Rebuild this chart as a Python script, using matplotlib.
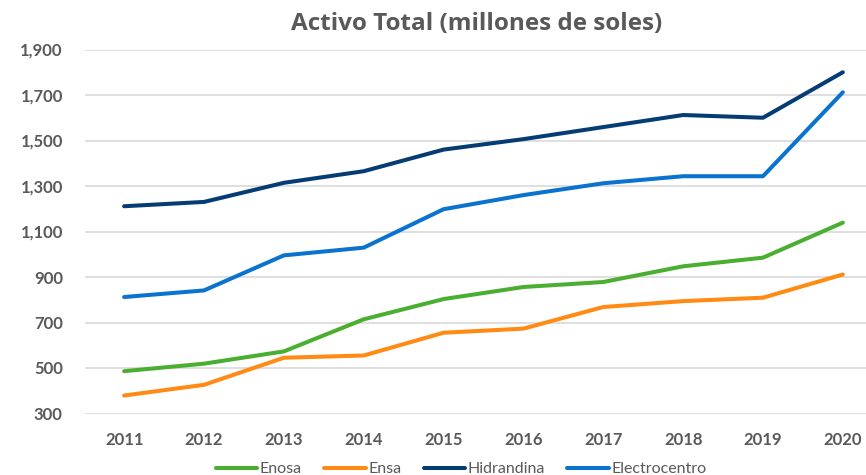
import matplotlib
matplotlib.use("Agg")
import matplotlib.pyplot as plt
from matplotlib.ticker import FuncFormatter

# data (millones de soles)
years = ['2011', '2012', '2013', '2014', '2015', '2016', '2017', '2018', '2019', '2020']
enosa = [486, 519, 573, 714, 803, 856, 878, 947, 985, 1139]
ensa = [379, 426, 545, 555, 655, 673, 768, 794, 809, 911]
hidrandina = [1211, 1230, 1314, 1365, 1460, 1506, 1559, 1612, 1600, 1800]
electrocentro = [812, 841, 995, 1029, 1198, 1260, 1312, 1343, 1343, 1712]
y_ticks = [300, 500, 700, 900, 1100, 1300, 1500, 1700, 1900]

series = [('Enosa', enosa, '#4AAE30'),
          ('Ensa', ensa, '#FF8A14'),
          ('Hidrandina', hidrandina, '#053C74'),
          ('Electrocentro', electrocentro, '#0A73CF')]

grey = '#595959'
plt.rcParams['font.family'] = ['Lato', 'DejaVu Sans']

fig = plt.figure(figsize=(8.66, 4.75), dpi=100)
ax = fig.add_axes([85 / 866, 1 - 413.5 / 475, 781 / 866, 364 / 475])

x = list(range(len(years)))
for name, vals, col in series:
    ax.plot(x, vals, color=col, lw=2.9, label=name, solid_capstyle='round', solid_joinstyle='round')

ax.set_ylim(300, 1900)
ax.set_xlim(-0.49, 9.29)
ax.set_yticks(y_ticks)
ax.yaxis.set_major_formatter(FuncFormatter(lambda v, p: f'{int(v):,}'))
ax.set_xticks(x)
ax.set_xticklabels(years)
ax.grid(axis='y', color='#D9D9D9', lw=1.2)
ax.set_axisbelow(True)
for s in ax.spines.values():
    s.set_visible(False)
ax.tick_params(length=0, labelsize=12, labelcolor=grey)
for lab in ax.get_xticklabels() + ax.get_yticklabels():
    lab.set_fontweight('bold')
ax.tick_params(axis='x', pad=13)
ax.tick_params(axis='y', pad=16)

fig.text(477 / 866, 1 - 24 / 475, 'Activo Total (millones de soles)', ha='center', va='center',
         fontsize=17.5, fontweight='bold', color=grey, family=['Open Sans', 'DejaVu Sans'])

leg = fig.legend(loc='center', bbox_to_anchor=(461 / 866, 1 - 469 / 475), ncol=4, frameon=False,
                 fontsize=11.5, handlelength=2.6, handletextpad=0.15, columnspacing=1.4,
                 borderaxespad=0)
for t in leg.get_texts():
    t.set_color(grey)

fig.savefig('out.png', dpi=100)
